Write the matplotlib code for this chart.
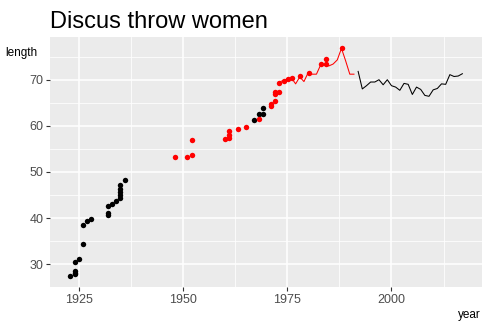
import matplotlib
matplotlib.use("Agg")
import matplotlib.pyplot as plt
from matplotlib.ticker import MultipleLocator

plt.rcParams['font.family'] = ['Liberation Sans', 'DejaVu Sans']

# early records (black) and the later ones (red)
early_year = [1922.8, 1924.0, 1924.0, 1924.0, 1924.0, 1925.0, 1926.0, 1926.0,
              1927.0, 1927.9, 1932.0, 1932.0, 1932.0, 1932.9, 1933.9, 1935.0,
              1935.0, 1935.0, 1935.0, 1935.0, 1936.0,
              1967.0, 1968.2, 1969.1, 1969.1]
early_len = [27.5, 27.8, 28.1, 28.5, 30.4, 31.2, 34.3, 38.4,
             39.4, 39.7, 40.7, 41.1, 42.6, 43.1, 43.7, 44.4,
             45.0, 45.6, 46.3, 47.1, 48.3,
             61.3, 62.6, 62.6, 63.9]

rec_year = [1948.0, 1950.9, 1952.1, 1952.1, 1960.0, 1961.0, 1961.0, 1961.0,
            1963.1, 1965.0, 1968.2, 1971.0, 1971.0, 1972.0, 1972.0, 1972.0,
            1973.0, 1973.0, 1974.2, 1975.1, 1976.1, 1978.0, 1980.2, 1983.0,
            1984.2, 1984.2, 1988.1]
rec_len = [53.3, 53.3, 53.7, 57.0, 57.2, 57.3, 57.9, 58.9,
           59.4, 59.8, 61.5, 64.3, 64.8, 65.4, 66.9, 67.4,
           67.4, 69.3, 69.8, 70.2, 70.4, 70.7, 71.5, 73.3,
           73.3, 74.5, 76.8]

# season bests
red_year = list(range(1973, 1992))
red_best = [69.5, 69.8, 70.2, 70.4, 69.1, 70.6, 69.6, 71.5, 71.2, 71.2,
            73.2, 73.2, 73.0, 73.4, 74.3, 76.8, 74.1, 71.2, 71.2]
black_year = list(range(1992, 2018))
black_best = [71.8, 68.0, 68.7, 69.5, 69.5, 70.0, 68.9, 70.0, 68.7, 68.4,
              67.7, 69.2, 69.0, 66.8, 68.4, 67.9, 66.6, 66.4, 67.8, 68.1,
              69.1, 69.0, 71.1, 70.7, 70.8, 71.3]

fig = plt.figure(figsize=(4.9, 3.3), dpi=100)
ax = fig.add_axes([50/490, 1-287/330, 432/490, 250/330])
ax.set_facecolor('#EBEBEB')
for s in ax.spines.values():
    s.set_visible(False)

ax.plot(red_year, red_best, color='#FF0000', lw=0.75, zorder=3)
ax.plot(black_year, black_best, color='black', lw=0.75, zorder=3)
ax.plot(early_year, early_len, 'o', color='black', ms=3.9, mew=0, zorder=4)
ax.plot(rec_year, rec_len, 'o', color='#FF0000', ms=3.9, mew=0, zorder=4)

xmin, xmax = 1922.8, 2017
ymin, ymax = 27.5, 76.8
ax.set_xlim(xmin - 0.05*(xmax-xmin), xmax + 0.05*(xmax-xmin))
ax.set_ylim(ymin - 0.05*(ymax-ymin), ymax + 0.05*(ymax-ymin))

ax.set_xticks([1925, 1950, 1975, 2000])
ax.set_yticks([30, 40, 50, 60, 70])
ax.xaxis.set_minor_locator(MultipleLocator(12.5))
ax.yaxis.set_minor_locator(MultipleLocator(5))
ax.grid(which='major', color='white', lw=1.1)
ax.grid(which='minor', color='white', lw=0.55)
ax.set_axisbelow(True)
ax.tick_params(which='major', length=2.8, width=0.8, color='#333333',
               labelsize=9, labelcolor='#4D4D4D', pad=2)
ax.tick_params(which='minor', length=0)

fig.text(50/490, 1-28/330, 'Discus throw women', fontsize=17, va='baseline')
fig.text(5/490, 1-47/330, 'length', fontsize=8.5, va='top')
fig.text(481/490, 1-309/330, 'year', fontsize=8.5, va='top', ha='right')

fig.savefig('out.png', dpi=100)
